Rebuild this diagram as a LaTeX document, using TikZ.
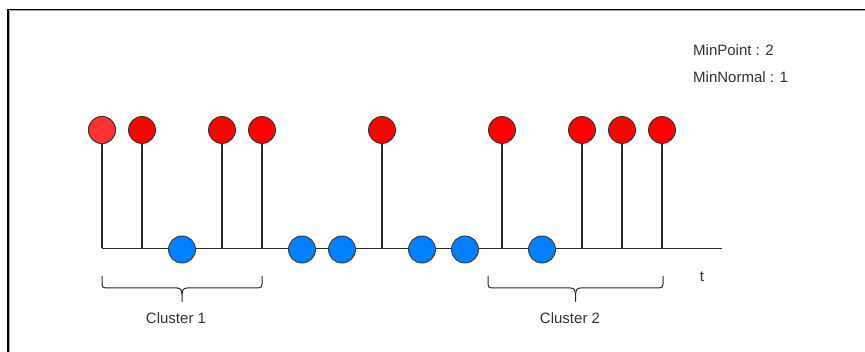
\documentclass[tikz,border=0pt]{standalone}
\usepackage{fontspec}
\setmainfont{Liberation Sans}
\definecolor{redfill}{HTML}{FF0000}
\definecolor{redlight}{HTML}{FF3333}
\definecolor{bluefill}{HTML}{007FFF}
\definecolor{edge}{HTML}{36393D}
\definecolor{stem}{HTML}{2B2B2B}
\definecolor{labeltext}{HTML}{333333}
\begin{document}
\begin{tikzpicture}[x=1pt,y=-1pt,
  dot/.style={circle,draw=edge,line width=0.9pt,minimum size=27pt,inner sep=0pt},
  reddot/.style={dot,fill=redfill},
  bluedot/.style={dot,fill=bluefill},
  stemline/.style={draw=stem,line width=1.3pt},
  bracepath/.style={draw=stem,line width=1pt},
  lbl/.style={font=\fontsize{15}{18}\selectfont,text=labeltext,inner sep=0pt}]
\useasboundingbox (0,0) rectangle (865,352);
\fill[white] (0,0) rectangle (865,352);
% frame with its shadow
\draw[gray!70,line width=1pt] (9.8,11) -- (865,11);
\draw[gray!70,line width=1pt] (9.5,11) -- (9.5,352);
\draw[black,line width=1.3pt] (8,9.5) -- (865,9.5);
\draw[black,line width=1.3pt] (8,9.5) -- (8,352);
% time axis
\coordinate (axisStart) at (102,248.5);
\coordinate (axisEnd) at (722,248.5);
\draw[stemline] (axisStart) -- (axisEnd);
% red events with their stems
\foreach \i/\x in {1/102,2/142,3/222,4/262,5/382,6/502,7/582,8/622,9/662}{
  \coordinate (f\i) at (\x,248.5);
  \node[reddot] (r\i) at (\x,130) {};
  \draw[stemline] (r\i.south) -- (f\i);
}
\node[dot,fill=redlight] at (r1) {};
% blue events on the axis
\foreach \i/\x in {1/182,2/302,3/342,4/422,5/465,6/542}{
  \node[bluedot] (b\i) at (\x,249.5) {};
}
% braces under the clusters
\draw[bracepath] (102,276) -- (102,284) .. controls (102,287) and (103,288) .. (106,288)
  -- (177,288) .. controls (181,288) and (182,291) .. (182,294) -- (182,302);
\draw[bracepath] (262,276) -- (262,284) .. controls (262,287) and (261,288) .. (258,288)
  -- (187,288) .. controls (183,288) and (182,291) .. (182,294);
\draw[bracepath] (488,276) -- (488,284) .. controls (488,287) and (489,288) .. (492,288)
  -- (570.5,288) .. controls (574.5,288) and (575.5,291) .. (575.5,294) -- (575.5,302);
\draw[bracepath] (663,276) -- (663,284) .. controls (663,287) and (662,288) .. (659,288)
  -- (580.5,288) .. controls (576.5,288) and (575.5,291) .. (575.5,294);
% labels
\node[lbl] (c1) at (176,318) {Cluster 1};
\node[lbl] (c2) at (570,318) {Cluster 2};
\node[lbl] (tl) at (702,277) {t};
\node[lbl,anchor=west] (mp) at (693,50) {MinPoint : 2};
\node[lbl,anchor=west] (mn) at (693,77) {MinNormal : 1};
\end{tikzpicture}
\end{document}
